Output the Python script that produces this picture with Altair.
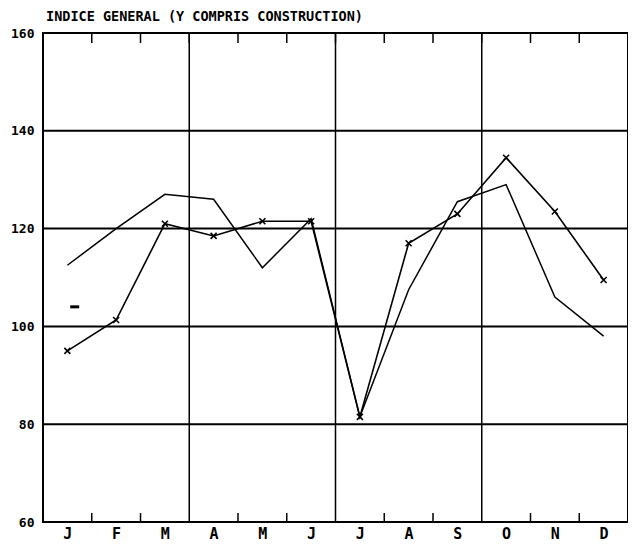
import json
import altair as alt
import pandas as pd

# ---- data ----
months = ["J", "F", "M", "A", "M", "J", "J", "A", "S", "O", "N", "D"]
serie_croix = [95, 101.3, 121, 118.5, 121.5, 121.5, 81.5, 117, 123, 134.5, 123.5, 109.5]
serie_ligne = [112.5, 120, 127, 126, 112, 122, 81.5, 107.5, 125.5, 129, 106, 98]
y_ticks = [60, 80, 100, 120, 140, 160]
grid_levels = [80, 100, 120, 140]
quarter_bounds = [3, 6, 9]
month_bounds = [1, 2, 4, 5, 7, 8, 10, 11]
top_bounds = [1, 2, 3, 4, 5, 6, 7, 8, 9, 10, 11]
marque_mois = ["J"]
marque_valeur = [104]

title_text = "INDICE GENERAL (Y COMPRIS CONSTRUCTION)"

# ---- tables ----
pos = [i + 0.5 for i in range(len(months))]
df_x = pd.DataFrame({"pos": pos, "mois": months, "v": serie_croix})
df_l = pd.DataFrame({"pos": pos, "mois": months, "v": serie_ligne})
df_grid = pd.DataFrame({"v": grid_levels})
df_q = pd.DataFrame({"b": quarter_bounds})
df_mb = pd.DataFrame({"b": month_bounds})
df_tb = pd.DataFrame({"b": top_bounds})
df_mark = pd.DataFrame({"pos": [months.index(m) + 0.65 for m in marque_mois], "v": marque_valeur})

W, H = 585, 489
FONT = "DejaVu Sans Mono"

xscale = alt.Scale(domain=[0, 12], nice=False, zero=False)
yscale = alt.Scale(domain=[60, 160], nice=False, zero=False)

label_expr = json.dumps(months) + "[floor(datum.value)]"

xaxis = alt.Axis(values=pos, labelExpr=label_expr, title=None, domain=False, ticks=False,
                 grid=False, labelFont=FONT, labelFontSize=15, labelFontWeight="bold",
                 labelColor="black", labelPadding=4, labelBaseline="top")
yaxis = alt.Axis(values=y_ticks, title=None, domain=False, ticks=False, grid=False,
                 labelFont=FONT, labelFontSize=13, labelFontWeight="bold", labelColor="black",
                 labelPadding=9)

X = lambda f: alt.X(f, type="quantitative", scale=xscale, axis=xaxis)
Y = lambda f: alt.Y(f, type="quantitative", scale=yscale, axis=yaxis)

grid = alt.Chart(df_grid).mark_rule(color="black", strokeWidth=2).encode(
    y=Y("v:Q"), x=alt.value(0), x2=alt.value(W))

quarters = alt.Chart(df_q).mark_rule(color="black", strokeWidth=1.5).encode(
    x=X("b:Q"), y=alt.value(0), y2=alt.value(H))

bottom_ticks = alt.Chart(df_mb).mark_rule(color="black", strokeWidth=1.5).encode(
    x=X("b:Q"), y=alt.value(H), y2=alt.value(H - 9))

top_ticks = alt.Chart(df_tb).mark_rule(color="black", strokeWidth=1.5).encode(
    x=X("b:Q"), y=alt.value(0), y2=alt.value(10))

line_plain = alt.Chart(df_l).mark_line(color="black", strokeWidth=1.5).encode(
    x=X("pos:Q"), y=Y("v:Q"))

line_x = alt.Chart(df_x).mark_line(color="black", strokeWidth=1.6).encode(
    x=X("pos:Q"), y=Y("v:Q"))

pts_x = alt.Chart(df_x).mark_point(
    shape="M -1 -1 L 1 1 M -1 1 L 1 -1", filled=False, color="black",
    strokeWidth=1.6, size=36, opacity=1).encode(x=X("pos:Q"), y=Y("v:Q"))

dash = alt.Chart(df_mark).mark_tick(color="black", thickness=3, size=9, orient="horizontal",
                                    opacity=1).encode(x=X("pos:Q"), y=Y("v:Q"))

chart = alt.layer(grid, quarters, bottom_ticks, top_ticks, line_plain, line_x, pts_x, dash).properties(
    width=W, height=H,
    title=alt.TitleParams(title_text, anchor="start", frame="group", font=FONT, fontSize=13.5,
                          fontWeight="bold", color="black", offset=4, dx=3),
    autosize=alt.AutoSizeParams(type="none"),
    padding={"left": 35, "top": 25, "right": 0, "bottom": 22},
).configure(
    background="white",
    view=alt.ViewConfig(stroke="black", strokeWidth=2),
)

chart.save("out.html", embed_options={"renderer": "svg", "actions": False})
